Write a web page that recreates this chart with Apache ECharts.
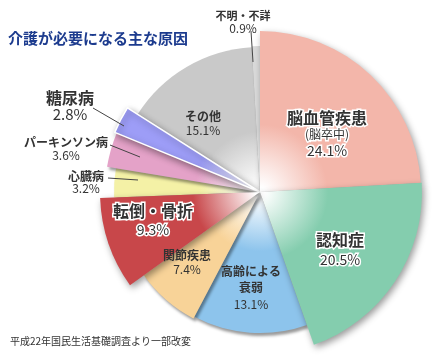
<!DOCTYPE html>
<html><head><meta charset="utf-8">
<script src="https://cdn.jsdelivr.net/npm/echarts@6/dist/echarts.min.js"></script>
<style>html,body{margin:0;padding:0;background:#fff}#c{width:434px;height:356px}</style>
</head><body><div id="c"></div>
<script>
// ---- data ----
const categories = ['脳血管疾患','認知症','高齢による衰弱','関節疾患','転倒・骨折','心臓病','パーキンソン病','糖尿病','その他','不明・不詳'];
const values = [24.1, 20.5, 13.1, 7.4, 9.3, 3.2, 3.6, 2.8, 15.1, 0.9];
const subNotes = ['(脳卒中)', '', '', '', '', '', '', '', '', ''];
const titleText = '介護が必要になる主な原因';
const sourceText = '平成22年国民生活基礎調査より一部改変';

// ---- styles / layout ----
const FONT = 'Noto Sans CJK JP';
const CX = 260, CY = 192;
const colors = ['#F3B6AA','#84CDAE','#8DC4EC','#F8D398','#C8474A','#F4F1A6','#E4A2C8','#9D9DF7','#C9C9C9','#D9D9D9'];
const radii  = [161, 162, 141, 143, 160, 146, 155, 157, 145, 146];
const order  = [8, 9, 2, 3, 5, 6, 7, 0, 1, 4];
const big    = [true, true, false, false, true, false, false, true, false, false];
const halo   = [true, true, false, false, true, false, false, false, false, false];
const labelPos = [
  {x:327, y:134, lh:[18,16,17]},
  {x:340, y:250, lh:[20,20]},
  {x:251, y:288, lh:[16,17]},
  {x:187, y:262, lh:[14,14]},
  {x:153, y:220, lh:[19,19]},
  {x:86,  y:182, lh:[12,12]},
  {x:66,  y:149, lh:[13,13]},
  {x:70,  y:106, lh:[16,16]},
  {x:203, y:123, lh:[14,14]},
  {x:243, y:22,  lh:[13,13]}
];
// leader lines for the outside labels (annotation only)
const leaders = [
  [[108,178],[138,180]],
  [[110,145],[140,157]],
  [[93,108],[124,126]],
  [[251,31],[253,62]]
];

function grad(c, r) {
  return {type:'radial', x:CX, y:CY, r:r, global:true,
    colorStops:[{offset:0,color:'#ffffff'},{offset:0.03,color:'#ffffff'},{offset:0.42,color:c},{offset:1,color:c}]};
}

function labelFor(i) {
  const nameSize = big[i] ? 16 : (i === 9 ? 11 : 12);
  const pctSize = big[i] ? (i === 7 ? 15 : 14) : 12;
  const lh = labelPos[i].lh;
  const bw = halo[i] ? 3 : 0;
  let name = categories[i];
  if (i === 2) name = '高齢による\n衰弱';
  let fmt = name.split('\n').map(s => '{n|' + s + '}').join('\n');
  if (subNotes[i]) fmt += '\n{s|' + subNotes[i] + '}';
  fmt += '\n{p|' + values[i].toFixed(1) + '%}';
  return {
    show: true,
    position: 'inside',
    formatter: fmt,
    rich: {
      n: {fontFamily: FONT, fontSize: nameSize, fontWeight: 'bold', color: '#333', lineHeight: lh[0],
          textBorderColor: '#fff', textBorderWidth: bw},
      s: {fontFamily: FONT, fontSize: 12, color: '#333', lineHeight: 16, textBorderColor: '#fff', textBorderWidth: bw},
      p: {fontFamily: FONT, fontSize: pctSize, color: '#333', lineHeight: lh[lh.length-1],
          textBorderColor: '#fff', textBorderWidth: bw}
    }
  };
}

const series = order.map(i => ({
  type: 'pie',
  center: [CX, CY],
  radius: [0, radii[i]],
  startAngle: 90,
  clockwise: true,
  silent: true,
  animation: false,
  avoidLabelOverlap: false,
  minAngle: 0,
  emphasis: {disabled: true},
  labelLine: {show: false},
  labelLayout: function () {
    const p = labelPos[i];
    return {x: p.x, y: p.y, align: 'center', verticalAlign: 'middle'};
  },
  data: values.map((v, j) => j === i ? {
    value: v, name: categories[j],
    itemStyle: {
      color: grad(colors[j], radii[j]),
      borderWidth: j === 7 ? 1.5 : 0, borderColor: '#fff',
      shadowBlur: big[j] ? 7 : 3, shadowColor: 'rgba(0,0,0,0.4)',
      shadowOffsetX: 2, shadowOffsetY: 3
    },
    label: labelFor(j)
  } : {
    value: v, name: categories[j],
    itemStyle: {color: 'rgba(0,0,0,0)', borderWidth: 0},
    label: {show: false}
  })
}));

const chart = echarts.init(document.getElementById('c'), null, {renderer: 'canvas'});
chart.setOption({
  animation: false,
  title: [
    {text: titleText, left: 3, top: 26, textStyle: {fontFamily: FONT, fontSize: 15, fontWeight: 'bold', color: '#1C3B8E'}},
    {text: sourceText, left: 5, top: 331, textStyle: {fontFamily: FONT, fontSize: 10, fontWeight: 'normal', color: '#333'}}
  ],
  graphic: leaders.map(pts => ({
    type: 'polyline', z: 100, silent: true,
    shape: {points: pts},
    style: {stroke: '#444', lineWidth: 1, fill: null}
  })),
  series: series
});
</script></body></html>
